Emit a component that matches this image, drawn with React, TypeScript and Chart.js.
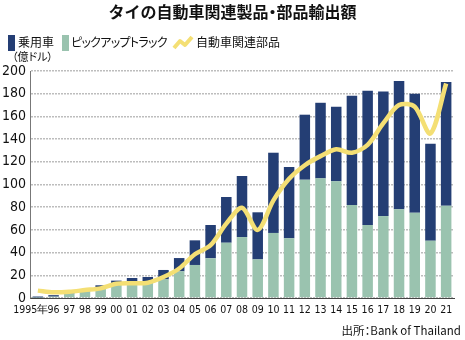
import React, { useEffect, useRef } from 'react';
import Chart from 'chart.js/auto';

const years = ['1995年', '96', '97', '98', '99', '00', '01', '02', '03', '04', '05', '06', '07', '08', '09', '10', '11', '12', '13', '14', '15', '16', '17', '18', '19', '20', '21'];
// 乗用車 (億ドル)
const passenger = [1.0, 1.3, 0.8, 0.8, 1.8, 2.4, 4.6, 4.5, 8.3, 11.7, 21.7, 29.3, 40.3, 53.8, 41.5, 70.7, 62.8, 57.3, 66.6, 65.7, 96.3, 118.3, 109.8, 113.1, 104.8, 85.5, 109.0];
// ピックアップトラック (億ドル)
const pickup = [0.3, 1.2, 4.0, 6.0, 9.4, 12.9, 13.0, 14.0, 16.4, 23.5, 29.1, 35.0, 48.7, 53.7, 34.0, 57.3, 52.6, 104.2, 105.4, 102.8, 82.0, 64.3, 72.2, 78.1, 75.2, 50.5, 81.3];
// 自動車関連部品 (億ドル)
const parts = [6.5, 5.0, 5.5, 7.0, 8.5, 12.5, 13.0, 13.5, 18.5, 26.0, 38.5, 46.5, 65.5, 79.5, 60.0, 86.0, 105.0, 117.0, 125.0, 131.0, 128.0, 135.0, 154.0, 170.0, 168.5, 145.0, 189.0];

const NAVY = '#243e74';
const GREEN = '#9ac3af';
const YELLOW = '#f4df74';
const JP = "'Noto Sans CJK JP', 'Noto Sans', sans-serif";
const NUM = "'Liberation Sans Narrow', 'DejaVu Sans Condensed', Roboto, sans-serif";

export default function App() {
  const ref = useRef<HTMLCanvasElement | null>(null);
  useEffect(() => {
    if (!ref.current) return;
    const chart = new Chart(ref.current, {
      data: {
        labels: years,
        datasets: [
          {
            type: 'line',
            label: '自動車関連部品',
            data: parts,
            borderColor: YELLOW,
            borderWidth: 4.5,
            pointRadius: 0,
            tension: 0.3,
            order: 0,
          } as any,
          {
            type: 'bar',
            label: 'ピックアップトラック',
            data: pickup,
            backgroundColor: GREEN,
            stack: 'bar',
            order: 1,
            categoryPercentage: 1,
            barPercentage: 0.67,
          },
          {
            type: 'bar',
            label: '乗用車',
            data: passenger,
            backgroundColor: NAVY,
            stack: 'bar',
            order: 1,
            categoryPercentage: 1,
            barPercentage: 0.67,
          },
        ],
      },
      options: {
        responsive: false,
        animation: false,
        layout: { padding: { top: 71, left: 0, right: 11, bottom: 22 } },
        plugins: { legend: { display: false }, tooltip: { enabled: false }, title: { display: false } },
        scales: {
          x: {
            stacked: true,
            grid: { display: false, drawTicks: false },
            border: { display: true, color: '#444', width: 1 },
            ticks: {
              color: '#111',
              font: { family: NUM, size: 10.5 },
              padding: 6,
              maxRotation: 0,
              autoSkip: false,
              callback: (_v: any, i: number) => (i === 0 ? years[0] + '\u2003\u2002' : years[i]),
            },
            afterFit: (s: any) => { s.height = 20; },
          },
          y: {
            stacked: true,
            min: 0,
            max: 200,
            ticks: {
              stepSize: 20,
              color: '#111',
              font: { family: NUM, size: 14 },
              padding: 4,
            },
            grid: {
              color: '#bdbdbd',
              lineWidth: 1.5,
              tickLength: 0,
            },
            border: { display: true, color: '#777', width: 1, dash: [2, 1] },
            afterFit: (s: any) => { s.width = 30; },
          },
        },
      },
    });
    return () => chart.destroy();
  }, []);

  const abs = (o: React.CSSProperties): React.CSSProperties => ({ position: 'absolute', whiteSpace: 'nowrap', ...o });
  const palt: React.CSSProperties = { fontFeatureSettings: '"palt"' };

  return (
    <div style={{ position: 'absolute', left: 0, top: 0, width: 465, height: 340, overflow: 'hidden' }}>
      <canvas ref={ref} width={465} height={340} style={{ position: 'absolute', left: 0, top: 0, width: 465, height: 340 }} />
      <div style={abs({ left: 0, width: 465, top: 3, textAlign: 'center', fontFamily: JP, fontWeight: 700, fontSize: 16, lineHeight: '17px', color: '#111' })}>
        タイの自動車関連製品<span style={{ ...palt }}>・</span>部品輸出額
      </div>
      <div style={abs({ left: 8, top: 35, width: 7, height: 16, background: NAVY })} />
      <div style={abs({ left: 18, top: 36, fontFamily: JP, fontSize: 12, lineHeight: '12px', color: '#111', ...palt })}>乗用車</div>
      <div style={abs({ left: 62, top: 35, width: 7, height: 16, background: GREEN })} />
      <div style={abs({ left: 71, top: 36, fontFamily: JP, fontSize: 12, lineHeight: '12px', letterSpacing: '-0.7px', color: '#111', ...palt })}>ピックアップトラック</div>
      <svg style={abs({ left: 172, top: 34, width: 22, height: 16 })} width={22} height={16}>
        <path d="M2 14 L8 7 L13 11 L20 3" fill="none" stroke={YELLOW} strokeWidth={4} strokeLinejoin="round" />
      </svg>
      <div style={abs({ left: 196, top: 36, fontFamily: JP, fontSize: 12, lineHeight: '12px', color: '#111', ...palt })}>自動車関連部品</div>
      <div style={abs({ left: 12, top: 51, fontFamily: JP, fontSize: 11, lineHeight: '11px', color: '#111', ...palt })}>（億ドル）</div>
      <div style={abs({ right: 4, top: 323, fontFamily: JP, fontSize: 11.5, lineHeight: '14px', color: '#111', ...palt })}>出所：Bank of Thailand</div>
    </div>
  );
}
